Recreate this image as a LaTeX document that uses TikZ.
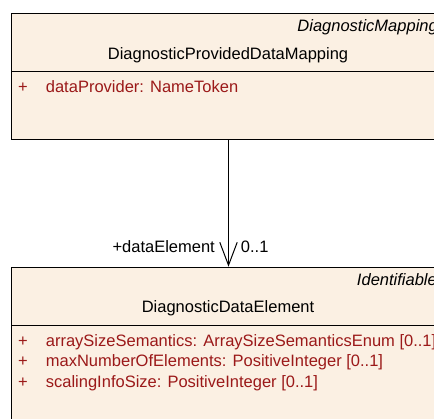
\documentclass[tikz,border=0pt]{standalone}
\usepackage{fontspec}
\setmainfont{Liberation Sans}
\usetikzlibrary{arrows.meta}
\definecolor{classfill}{RGB}{251,240,227}
\definecolor{attrred}{RGB}{155,25,25}

\begin{document}
\begin{tikzpicture}[x=1bp,y=-1bp,
   classbox/.style={draw,line width=1bp,fill=classfill,anchor=north west,
      minimum width=434bp,inner sep=0pt},
   umltext/.style={inner sep=0pt,font=\fontsize{16.5bp}{20bp}\selectfont},
   stereotext/.style={umltext,font=\fontsize{16.5bp}{20bp}\selectfont\itshape,
      anchor=base east},
   nametext/.style={umltext,anchor=base},
   attrtext/.style={umltext,text=attrred,anchor=base west},
   sepline/.style={line width=1bp},
   assoc/.style={line width=1bp,-{Straight Barb[length=23bp,width=17.4bp]}}
]
   \useasboundingbox (0,0) rectangle (434,418);
   \clip (0,0) rectangle (434,418);

   % DiagnosticProvidedDataMapping
   \node[classbox,minimum height=126.6bp] (mapping) at (11,12.7) {};
   \draw[sepline] (11,71) -- (445,71);
   \node[stereotext] (mappingstereo) at (438,31.7) {DiagnosticMapping};
   \node[nametext] (mappingname) at (228,59.3) {DiagnosticProvidedDataMapping};
   \node[attrtext] (mappingplus1) at (18,92.7) {+};
   \node[attrtext] (mappingattr1) at (45.7,92.7) {dataProvider: NameToken};

   % DiagnosticDataElement
   \node[classbox,minimum height=170bp] (element) at (11,266.7) {};
   \draw[sepline] (11,325.7) -- (445,325.7);
   \node[stereotext] (elementstereo) at (437,285) {Identifiable};
   \node[nametext] (elementname) at (228,312) {DiagnosticDataElement};
   \foreach \i/\y/\txt in {1/346/{arraySizeSemantics: ArraySizeSemanticsEnum [0..1]},
         2/366.5/{maxNumberOfElements: PositiveInteger [0..1]},
         3/387/{scalingInfoSize: PositiveInteger [0..1]}} {
      \node[attrtext] (elementplus\i) at (18,\y) {+};
      \node[attrtext] (elementattr\i) at (45.7,\y) {\txt};
   }

   % association
   \draw[assoc] (mapping) -- (element);
   \node[umltext,anchor=base east] (rolename) at (215,252.7) {+dataElement};
   \node[umltext,anchor=base west] (multiplicity) at (240.7,252.7) {0..1};
\end{tikzpicture}
\end{document}
